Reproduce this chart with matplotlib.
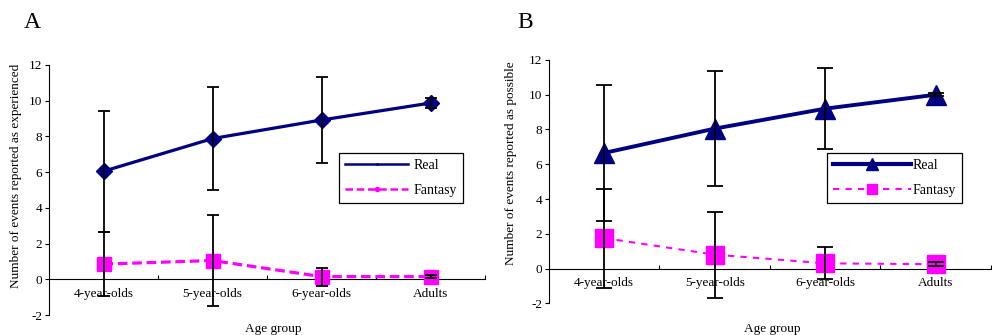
import matplotlib
matplotlib.use('Agg')
import matplotlib.pyplot as plt
from matplotlib.lines import Line2D

""" DATA """
groups = ['4-year-olds', '5-year-olds', '6-year-olds', 'Adults']

exp_real = [6.05, 7.88, 8.92, 9.87]
exp_real_err = [3.4, 2.9, 2.42, 0.3]
exp_fantasy = [0.85, 1.05, 0.15, 0.15]
exp_fantasy_err = [1.8, 2.55, 0.5, 0.1]

pos_real = [6.65, 8.05, 9.2, 10.0]
pos_real_err = [3.9, 3.3, 2.35, 0.1]
pos_fantasy = [1.75, 0.8, 0.3, 0.25]
pos_fantasy_err = [2.85, 2.47, 0.93, 0.1]

yticks = [-2, 0, 2, 4, 6, 8, 10, 12]

NAVY = '#000080'
MAGENTA = '#ff00ff'
FONT = 'Liberation Serif'

plt.rcParams['font.family'] = FONT
plt.rcParams['font.size'] = 9.5


def setup_axes(ax):
    x = list(range(len(groups)))
    ax.set_xlim(-0.5, len(groups) - 0.5)
    ax.set_ylim(-2, 12)
    ax.set_yticks(yticks)
    ax.set_yticklabels([str(v) for v in yticks])
    ax.spines['top'].set_visible(False)
    ax.spines['right'].set_visible(False)
    ax.spines['bottom'].set_position(('data', 0))
    ax.set_xticks(x)
    ax.set_xticklabels(groups)
    ax.set_xticks([i + 0.5 for i in x], minor=True)
    ax.tick_params(axis='x', which='major', length=0, pad=6, labelsize=9.5)
    ax.tick_params(axis='x', which='minor', direction='in', length=3, width=0.8)
    ax.tick_params(axis='y', direction='out', length=3, width=0.8, pad=2, labelsize=9.5)
    for s in ['left', 'bottom']:
        ax.spines[s].set_linewidth(0.8)
    return x


def errbars(ax, x, y, err, cap):
    ax.errorbar(x, y, yerr=err, fmt='none', ecolor='black', elinewidth=1.3,
                capsize=cap, capthick=1.3, zorder=4)


fig = plt.figure(figsize=(9.92, 3.35), dpi=100)

# panel A
ax1 = fig.add_axes([0.0494, 0.0597, 0.4396, 0.7463])
x = setup_axes(ax1)
ax1.plot(x, exp_real, color=NAVY, lw=2.3, marker='D', ms=8, zorder=3)
ax1.plot(x, exp_fantasy, color=MAGENTA, lw=2.3, ls=(0, (3, 1.5)), marker='s', ms=9.5, zorder=3)
errbars(ax1, x, exp_real, exp_real_err, 4.3)
errbars(ax1, x, exp_fantasy, exp_fantasy_err, 4.3)
handles = [Line2D([], [], color=NAVY, lw=1.8, marker='.', ms=2),
           Line2D([], [], color=MAGENTA, lw=1.8, ls=(0, (3, 1.5)), marker='o', ms=3)]
leg = ax1.legend(handles, ['Real', 'Fantasy'], loc='upper left',
                 bbox_to_anchor=(339 / 992, 1 - 153 / 335), bbox_transform=fig.transFigure,
                 fancybox=False, edgecolor='black', framealpha=1, fontsize=10,
                 handlelength=4.5, labelspacing=0.85, borderaxespad=0, handletextpad=0.4,
                 borderpad=0.45)
leg.get_frame().set_linewidth(0.9)

# panel B
ax2 = fig.add_axes([0.5534, 0.0946, 0.4456, 0.7264])
x = setup_axes(ax2)
ax2.plot(x, pos_real, color=NAVY, lw=2.8, marker='^', ms=15, zorder=3)
ax2.plot(x, pos_fantasy, color=MAGENTA, lw=1.5, ls=(0, (3, 3)), marker='s', ms=13.5, zorder=3)
errbars(ax2, x, pos_real, pos_real_err, 5.8)
errbars(ax2, x, pos_fantasy, pos_fantasy_err, 5.8)
handles = [Line2D([], [], color=NAVY, lw=3, marker='^', ms=8),
           Line2D([], [], color=MAGENTA, lw=1.5, ls=(0, (3, 3)), marker='s', ms=7)]
leg = ax2.legend(handles, ['Real', 'Fantasy'], loc='upper left',
                 bbox_to_anchor=(827 / 992, 1 - 153 / 335), bbox_transform=fig.transFigure,
                 fancybox=False, edgecolor='black', framealpha=1, fontsize=10,
                 handlelength=5.6, labelspacing=0.85, borderaxespad=0, handletextpad=0.1,
                 borderpad=0.45)
leg.get_frame().set_linewidth(0.9)

# labels
fig.text(16 / 992, 1 - 176 / 335, 'Number of events reported as experienced', rotation=90,
         ha='center', va='center', fontsize=9.5)
fig.text(511 / 992, 1 - 163 / 335, 'Number of events reported as possible', rotation=90,
         ha='center', va='center', fontsize=9.5)
fig.text(273 / 992, 1 - 329 / 335, 'Age group', ha='center', va='center', fontsize=9.5)
fig.text(772 / 992, 1 - 329 / 335, 'Age group', ha='center', va='center', fontsize=9.5)
fig.text(32 / 992, 1 - 22 / 335, 'A', ha='center', va='center', fontsize=17)
fig.text(525 / 992, 1 - 22 / 335, 'B', ha='center', va='center', fontsize=17)

plt.savefig('out.png', dpi=100)
